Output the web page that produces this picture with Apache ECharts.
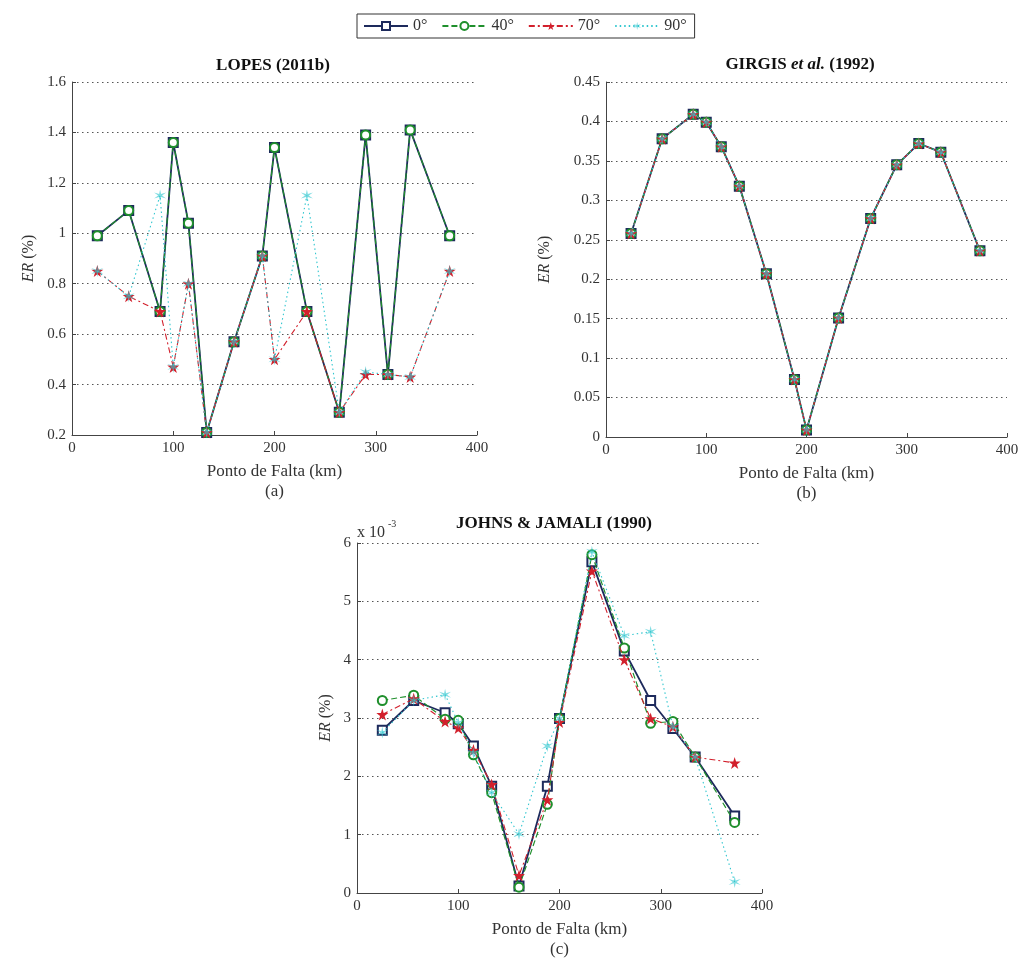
<!DOCTYPE html>
<html>
<head>
<meta charset="utf-8">
<script src="https://cdn.jsdelivr.net/npm/echarts@6/dist/echarts.min.js"></script>
<style>
html,body{margin:0;padding:0;background:#fff;}
#main{width:1029px;height:961px;}
</style>
</head>
<body>
<div id="main"></div>
<script>
// ---- data ----
const km = [25, 56, 87, 100, 115, 133, 160, 188, 200, 232, 264, 290, 312, 334, 373];
const seriesNames = ['0°', '40°', '70°', '90°'];

// (a) LOPES (2011b), ER (%)
const lopes0  = [0.99, 1.09, 0.69, 1.36, 1.04, 0.21, 0.57, 0.91, 1.34, 0.69, 0.29, 1.39, 0.44, 1.41, 0.99];
const lopes40 = [0.99, 1.09, 0.69, 1.36, 1.04, 0.21, 0.57, 0.91, 1.34, 0.69, 0.29, 1.39, 0.44, 1.41, 0.99];
const lopes70 = [0.85, 0.75, 0.69, 0.47, 0.80, 0.21, 0.57, 0.91, 0.50, 0.69, 0.29, 0.44, 0.44, 0.43, 0.85];
const lopes90 = [0.85, 0.75, 1.15, 0.47, 0.80, 0.21, 0.57, 0.91, 0.50, 1.15, 0.29, 0.45, 0.44, 0.43, 0.85];

// (b) GIRGIS et al. (1992), ER (%)
const girgis0  = [0.258, 0.378, 0.409, 0.399, 0.368, 0.318, 0.207, 0.073, 0.009, 0.151, 0.277, 0.345, 0.372, 0.361, 0.236];
const girgis40 = [0.258, 0.378, 0.409, 0.399, 0.368, 0.318, 0.207, 0.073, 0.009, 0.151, 0.277, 0.345, 0.372, 0.361, 0.236];
const girgis70 = [0.258, 0.378, 0.409, 0.399, 0.368, 0.318, 0.207, 0.073, 0.009, 0.151, 0.277, 0.345, 0.372, 0.361, 0.236];
const girgis90 = [0.258, 0.378, 0.409, 0.399, 0.368, 0.318, 0.207, 0.073, 0.009, 0.151, 0.277, 0.345, 0.372, 0.361, 0.236];

// (c) JOHNS & JAMALI (1990), ER (%) in units of 10^-3
const johns0  = [2.79, 3.30, 3.09, 2.90, 2.52, 1.83, 0.12, 1.83, 2.99, 5.68, 4.15, 3.30, 2.82, 2.33, 1.32];
const johns40 = [3.30, 3.39, 2.98, 2.96, 2.37, 1.72, 0.10, 1.52, 2.99, 5.80, 4.20, 2.91, 2.94, 2.33, 1.21];
const johns70 = [3.06, 3.33, 2.94, 2.83, 2.45, 1.86, 0.30, 1.60, 2.93, 5.52, 4.00, 2.99, 2.85, 2.33, 2.23];
const johns90 = [2.75, 3.30, 3.40, 2.92, 2.40, 1.72, 1.01, 2.52, 2.99, 5.85, 4.41, 4.48, 2.85, 2.33, 0.19];

// ---- styles ----
const FONT = 'Liberation Serif';
const STAR = 'path://M50,0 L61,35 L98,35 L68,57 L79,91 L50,70 L21,91 L32,57 L2,35 L39,35 Z';
const AST = 'path://M50,0 L57,37.9 L93.3,25 L64,50 L93.3,75 L57,62.1 L50,100 L43,62.1 L6.7,75 L36,50 L6.7,25 L43,37.9 Z';
const styles = [
  {color:'#1d2a5c', line:{width:1.8, type:'solid'}, symbol:'emptyRect', size:9, opacity:1},
  {color:'#1f8f2c', line:{width:1.2, type:[6,3]}, symbol:'emptyCircle', size:9, opacity:1},
  {color:'#d2202c', line:{width:1.1, type:[6,3,2,3]}, symbol:STAR, size:12, opacity:1},
  {color:'#2fc6cf', line:{width:1.1, type:[1.5,3]}, symbol:AST, size:12, opacity:0.62}
];

function mk(vals, idx, gi) {
  const s = styles[idx];
  return {
    name: seriesNames[idx],
    type: 'line',
    xAxisIndex: gi, yAxisIndex: gi,
    data: km.map((k, i) => [k, vals[i]]),
    symbol: s.symbol, symbolSize: s.size,
    showAllSymbol: true,
    color: s.color,
    itemStyle: {color: s.color, opacity: s.opacity, borderWidth: 1.5},
    lineStyle: {color: s.color, width: s.line.width, type: s.line.type},
    animation: false,
    z: 2 + idx
  };
}

const grids = [
  {left: 72, top: 82, width: 405, height: 353},
  {left: 606, top: 82, width: 401, height: 355},
  {left: 357, top: 543, width: 405, height: 353}
];

const axisLabelStyle = {fontFamily: FONT, fontSize: 15, color: '#333'};
function xAx(gi, sub) {
  return {
    type: 'value', gridIndex: gi, min: 0, max: 400, interval: 100,
    name: 'Ponto de Falta (km)\n' + sub, nameLocation: 'middle', nameGap: 27,
    nameTextStyle: {fontFamily: FONT, fontSize: 17, color: '#333', lineHeight: 20, verticalAlign: 'top'},
    axisLine: {show: true, lineStyle: {color: '#444', width: 1}},
    axisTick: {show: true, inside: true, length: 4, lineStyle: {color: '#444'}},
    axisLabel: Object.assign({margin: 6}, axisLabelStyle),
    splitLine: {show: false}
  };
}
function yAx(gi, min, max, interval, gap) {
  return {
    type: 'value', gridIndex: gi, min: min, max: max, interval: interval,
    name: '{i|ER} (%)', nameLocation: 'middle', nameGap: gap, nameRotate: 90,
    nameTextStyle: {fontFamily: FONT, fontSize: 16, color: '#333',
      rich: {i: {fontFamily: FONT, fontSize: 16, fontStyle: 'italic', color: '#333'}}},
    axisLine: {show: true, lineStyle: {color: '#444', width: 1}},
    axisTick: {show: true, inside: true, length: 4, lineStyle: {color: '#444'}},
    axisLabel: Object.assign({margin: 6}, axisLabelStyle),
    splitLine: {show: true, lineStyle: {color: '#555', width: 1, type: [1.5, 3.5]}}
  };
}

const series = [];
[lopes0, lopes40, lopes70, lopes90].forEach((v, i) => series.push(mk(v, i, 0)));
[girgis0, girgis40, girgis70, girgis90].forEach((v, i) => series.push(mk(v, i, 1)));
[johns0, johns40, johns70, johns90].forEach((v, i) => series.push(mk(v, i, 2)));

const titleFont = 'bold 17px "' + FONT + '"';
const option = {
  backgroundColor: '#fff',
  animation: false,
  legend: {
    data: seriesNames,
    left: 357, top: 14,
    padding: [4, 8, 4, 6],
    itemWidth: 44, itemHeight: 10, itemGap: 14,
    borderColor: '#333', borderWidth: 1,
    textStyle: {fontFamily: FONT, fontSize: 16, color: '#333'}
  },
  grid: grids,
  xAxis: [xAx(0, '(a)'), xAx(1, '(b)'), xAx(2, '(c)')],
  yAxis: [yAx(0, 0.2, 1.6, 0.2, 35), yAx(1, 0, 0.45, 0.05, 53), yAx(2, 0, 6, 1, 23)],
  series: series,
  graphic: [
    {type: 'text', x: 273, y: 66, style: {text: 'LOPES (2011b)', font: titleFont, fill: '#111', align: 'center', verticalAlign: 'middle'}},
    {type: 'text', x: 800, y: 65, style: {
      text: '{b|GIRGIS }{i|et al.}{b| (1992)}', align: 'center', verticalAlign: 'middle',
      rich: {
        b: {fontFamily: FONT, fontSize: 17, fontWeight: 'bold', fill: '#111'},
        i: {fontFamily: FONT, fontSize: 17, fontWeight: 'bold', fontStyle: 'italic', fill: '#111'}
      }}},
    {type: 'text', x: 554, y: 524, style: {text: 'JOHNS & JAMALI (1990)', font: titleFont, fill: '#111', align: 'center', verticalAlign: 'middle'}},
    {type: 'text', x: 357, y: 533, style: {text: 'x 10', font: '16px "' + FONT + '"', fill: '#333', align: 'left', verticalAlign: 'middle'}},
    {type: 'text', x: 388, y: 524, style: {text: '-3', font: '10px "' + FONT + '"', fill: '#333', align: 'left', verticalAlign: 'middle'}}
  ]
};

const chart = echarts.init(document.getElementById('main'), null, {renderer: 'canvas'});
chart.setOption(option);
</script>
</body>
</html>
